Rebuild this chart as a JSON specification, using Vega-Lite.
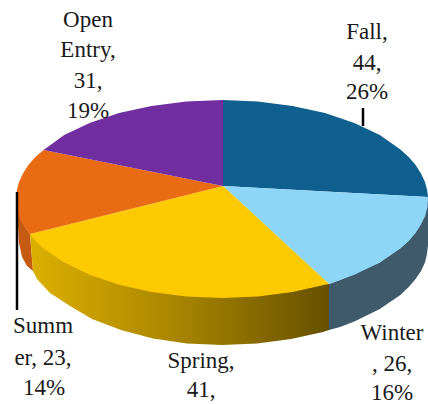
{
"$schema":"https://vega.github.io/schema/vega-lite/v6.json",
"width":428,"height":404,"padding":0,
"autosize":{"type":"none"},
"background":"white",
"config":{"view":{"stroke":null}},
"datasets":{
"sides":[
{"part":"Winter side","i":1,"x":428,"y":197},{"part":"Winter side","i":2,"x":428,"y":245},{"part":"Winter side","i":3,"x":427,"y":253.7},{"part":"Winter side","i":4,"x":425,"y":262.4},{"part":"Winter side","i":5,"x":421,"y":271},{"part":"Winter side","i":6,"x":415.6,"y":279},{"part":"Winter side","i":7,"x":408.7,"y":287},{"part":"Winter side","i":8,"x":400.4,"y":295},{"part":"Winter side","i":9,"x":379.8,"y":309},{"part":"Winter side","i":10,"x":354.4,"y":321.6},{"part":"Winter side","i":11,"x":340,"y":327},{"part":"Winter side","i":12,"x":329,"y":330},{"part":"Winter side","i":13,"x":329,"y":284},{"part":"Winter side","i":14,"x":340,"y":280},{"part":"Winter side","i":15,"x":379.8,"y":262.6},{"part":"Winter side","i":16,"x":408.7,"y":241},{"part":"Winter side","i":17,"x":425,"y":216},
{"part":"Summer side","i":1,"x":17,"y":192},{"part":"Summer side","i":2,"x":17,"y":208},{"part":"Summer side","i":3,"x":18,"y":225},{"part":"Summer side","i":4,"x":19,"y":243},{"part":"Summer side","i":5,"x":22,"y":257},{"part":"Summer side","i":6,"x":27,"y":266},{"part":"Summer side","i":7,"x":33,"y":271},{"part":"Summer side","i":8,"x":30,"y":234},{"part":"Summer side","i":9,"x":23,"y":224},{"part":"Summer side","i":10,"x":19,"y":214}
],
"spring":[
{"i":1,"x":30,"y":234},{"i":2,"x":33,"y":271},{"i":3,"x":37,"y":279},{"i":4,"x":50,"y":293},{"i":5,"x":70,"y":306},{"i":6,"x":92,"y":319},{"i":7,"x":121,"y":330},{"i":8,"x":153,"y":338.5},{"i":9,"x":187,"y":343.5},{"i":10,"x":222,"y":345},{"i":11,"x":257,"y":343.5},{"i":12,"x":291,"y":339},{"i":13,"x":323,"y":332},{"i":14,"x":329,"y":330},{"i":15,"x":329,"y":284},{"i":16,"x":222,"y":250},{"i":17,"x":64,"y":240}
],
"faces":[
{"part":"Fall","i":1,"x":223,"y":186},{"part":"Fall","i":2,"x":223,"y":100},{"part":"Fall","i":3,"x":257.8,"y":101.5},{"part":"Fall","i":4,"x":292.5,"y":106},{"part":"Fall","i":5,"x":325,"y":113},{"part":"Fall","i":6,"x":354.4,"y":123},{"part":"Fall","i":7,"x":379.8,"y":135},{"part":"Fall","i":8,"x":400.4,"y":149.5},{"part":"Fall","i":9,"x":408.7,"y":157},{"part":"Fall","i":10,"x":415.6,"y":165},{"part":"Fall","i":11,"x":421,"y":173.4},{"part":"Fall","i":12,"x":425,"y":182},{"part":"Fall","i":13,"x":427.2,"y":190.4},{"part":"Fall","i":14,"x":428,"y":197},
{"part":"Winter","i":1,"x":223,"y":186},{"part":"Winter","i":2,"x":428,"y":197},{"part":"Winter","i":3,"x":427.4,"y":207.6},{"part":"Winter","i":4,"x":425,"y":216},{"part":"Winter","i":5,"x":421,"y":224.6},{"part":"Winter","i":6,"x":415.6,"y":233},{"part":"Winter","i":7,"x":408.7,"y":241},{"part":"Winter","i":8,"x":400.4,"y":248.5},{"part":"Winter","i":9,"x":379.8,"y":262.6},{"part":"Winter","i":10,"x":354.4,"y":274.8},{"part":"Winter","i":11,"x":340,"y":280},{"part":"Winter","i":12,"x":329,"y":284},
{"part":"Spring","i":1,"x":223,"y":186},{"part":"Spring","i":2,"x":329,"y":284},{"part":"Spring","i":3,"x":325,"y":284.7},{"part":"Spring","i":4,"x":292.5,"y":292},{"part":"Spring","i":5,"x":257.8,"y":296.5},{"part":"Spring","i":6,"x":222,"y":298},{"part":"Spring","i":7,"x":186.2,"y":296.5},{"part":"Spring","i":8,"x":151.5,"y":292},{"part":"Spring","i":9,"x":119,"y":284.7},{"part":"Spring","i":10,"x":89.6,"y":274.8},{"part":"Spring","i":11,"x":64.2,"y":262.6},{"part":"Spring","i":12,"x":43.6,"y":248.5},{"part":"Spring","i":13,"x":35.3,"y":241},{"part":"Spring","i":14,"x":30,"y":234},
{"part":"Summer","i":1,"x":223,"y":186},{"part":"Summer","i":2,"x":30,"y":234},{"part":"Summer","i":3,"x":23,"y":224.6},{"part":"Summer","i":4,"x":19,"y":216},{"part":"Summer","i":5,"x":16.8,"y":207.6},{"part":"Summer","i":6,"x":16,"y":199},{"part":"Summer","i":7,"x":16.8,"y":190.4},{"part":"Summer","i":8,"x":19,"y":182},{"part":"Summer","i":9,"x":23,"y":173.4},{"part":"Summer","i":10,"x":28.4,"y":165},{"part":"Summer","i":11,"x":35.3,"y":157},{"part":"Summer","i":12,"x":43.6,"y":150},
{"part":"Open Entry","i":1,"x":223,"y":186},{"part":"Open Entry","i":2,"x":43.6,"y":150},{"part":"Open Entry","i":3,"x":64.2,"y":135},{"part":"Open Entry","i":4,"x":89.6,"y":123},{"part":"Open Entry","i":5,"x":119,"y":113},{"part":"Open Entry","i":6,"x":151.5,"y":106},{"part":"Open Entry","i":7,"x":186.2,"y":101.5},{"part":"Open Entry","i":8,"x":223,"y":100}
],
"leaders":[{"x":17,"y":192,"y2":310,"w":"Summer"},{"x":363,"y":108,"y2":126,"w":"Fall"}],
"labels":[
{"t":"Open","x":88,"y":27},{"t":"Entry,","x":88,"y":57},{"t":"31,","x":88,"y":88},{"t":"19%","x":88,"y":118},
{"t":"Fall,","x":367,"y":39},{"t":"44,","x":367,"y":70},{"t":"26%","x":367,"y":99},
{"t":"Summ","x":43,"y":333},{"t":"er, 23,","x":43,"y":365},{"t":"14%","x":44,"y":395},
{"t":"Spring,","x":201,"y":368},{"t":"41,","x":201,"y":397},
{"t":"Winter","x":392,"y":340},{"t":", 26,","x":392,"y":371},{"t":"16%","x":392,"y":400}
]
},
"layer":[
{"data":{"name":"sides"},
"mark":{"type":"line","strokeWidth":0},
"encoding":{
"x":{"field":"x","type":"quantitative","scale":{"domain":[0,428],"nice":false,"zero":false},"axis":null},
"y":{"field":"y","type":"quantitative","scale":{"domain":[404,0],"nice":false,"zero":false},"axis":null},
"order":{"field":"i","type":"quantitative"},
"fill":{"field":"part","type":"nominal","legend":null,"scale":{"domain":["Winter side","Summer side"],"range":["#3e5a6b","#c55a10"]}}
}},
{"data":{"name":"spring"},
"mark":{"type":"line","strokeWidth":0,"fill":{"gradient":"linear","x1":0,"y1":0,"x2":1,"y2":0,"stops":[{"offset":0,"color":"#dcb000"},{"offset":0.5,"color":"#a88400"},{"offset":1,"color":"#655000"}]}},
"encoding":{
"x":{"field":"x","type":"quantitative"},
"y":{"field":"y","type":"quantitative"},
"order":{"field":"i","type":"quantitative"}
}},
{"data":{"name":"faces"},
"mark":{"type":"line","strokeWidth":0},
"encoding":{
"x":{"field":"x","type":"quantitative"},
"y":{"field":"y","type":"quantitative"},
"order":{"field":"i","type":"quantitative"},
"fill":{"field":"part","type":"nominal","legend":null,"scale":{"domain":["Fall","Winter","Spring","Summer","Open Entry"],"range":["#10608f","#8dd6f7","#fdc900","#e96b13","#702ea0"]}}
}},
{"data":{"name":"leaders"},
"mark":{"type":"rule","color":"black","strokeWidth":2.5},
"encoding":{
"x":{"field":"x","type":"quantitative"},
"y":{"field":"y","type":"quantitative"},
"y2":{"field":"y2"}
}},
{"data":{"name":"labels"},
"mark":{"type":"text","font":"Liberation Serif","fontSize":23,"align":"center","baseline":"alphabetic","color":"#1a1a1a"},
"encoding":{
"x":{"field":"x","type":"quantitative"},
"y":{"field":"y","type":"quantitative"},
"text":{"field":"t"}
}}
],
"resolve":{"scale":{"fill":"independent"}}
}
